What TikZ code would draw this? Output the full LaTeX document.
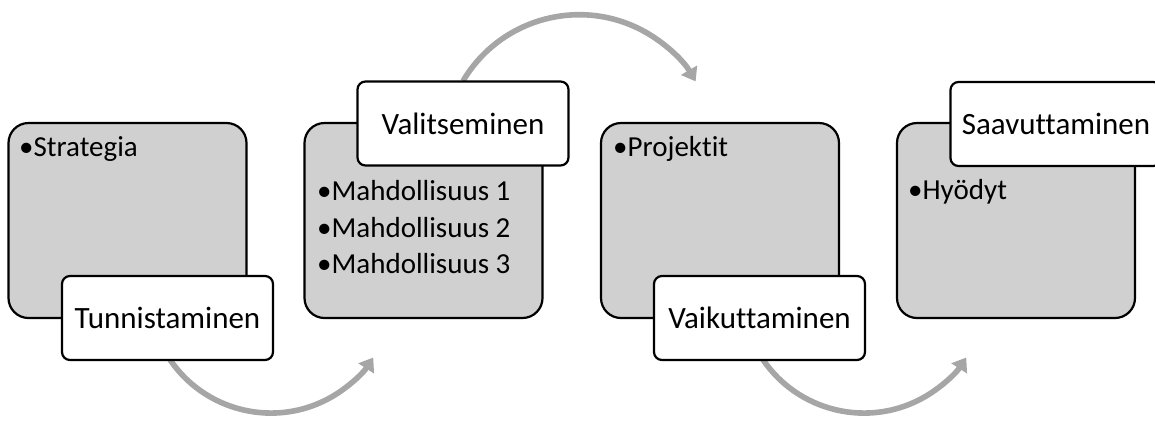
\documentclass[tikz,border=0pt]{standalone}
\usepackage{fontspec}
\setmainfont{Carlito}[Ligatures=NoCommon]
\usetikzlibrary{arrows.meta}
\definecolor{boxgray}{HTML}{D0D0D0}
\definecolor{arrowgray}{HTML}{A6A6A6}
\begin{document}
\begin{tikzpicture}[x=1pt,y=-1pt,
  stagebox/.style={draw=black, line width=2.2pt, fill=boxgray, rounded corners=20pt,
    minimum width=238pt, minimum height=195pt, inner sep=0pt},
  tagbox/.style={draw=black, line width=2.2pt, fill=white, rounded corners=8pt,
    minimum width=211pt, minimum height=84pt, inner sep=0pt,
    font=\fontsize{31}{37}\selectfont},
  item/.style={anchor=base west, inner sep=0pt, font=\fontsize{29}{36}\selectfont},
  flow/.style={draw=arrowgray, line width=5.6pt, -{Triangle[width=18pt,length=13pt]}}
]
\clip (0,0) rectangle (1155,421);

% curved flow arrows between the stages (drawn first, behind the boxes)
\coordinate (f1s) at (167,355);
\coordinate (f2s) at (463,81);
\coordinate (f3s) at (760,355);
\draw[flow] (f1s) arc[start angle=148.4, end angle=33, radius=122];
\draw[flow] (f2s) arc[start angle=210.6, end angle=329.6, radius=135];
\draw[flow] (f3s) arc[start angle=148.4, end angle=33, radius=122];

% stage content boxes
\node[stagebox] (b1) at (127.5,220.5) {};
\node[stagebox] (b2) at (423.5,220.5) {};
\node[stagebox] (b3) at (720,220.5) {};
\node[stagebox] (b4) at (1016,220.5) {};

% bullet items
\node[item] (t1) at (19,156) {•Strategia};
\node[item] (t2a) at (317,200) {•Mahdollisuus 1};
\node[item] (t2b) at (317,237) {•Mahdollisuus 2};
\node[item] (t2c) at (317,273) {•Mahdollisuus 3};
\node[item] (t3) at (613,156) {•Projektit};
\node[item] (t4) at (908,199) {•Hyödyt};

% stage titles
\node[tagbox] (l1) at (167.5,318) {Tunnistaminen};
\node[tagbox] (l2) at (463,123.5) {Valitseminen};
\node[tagbox] (l3) at (759.5,318) {Vaikuttaminen};
\node[tagbox] (l4) at (1056,124) {Saavuttaminen};
\end{tikzpicture}
\end{document}
